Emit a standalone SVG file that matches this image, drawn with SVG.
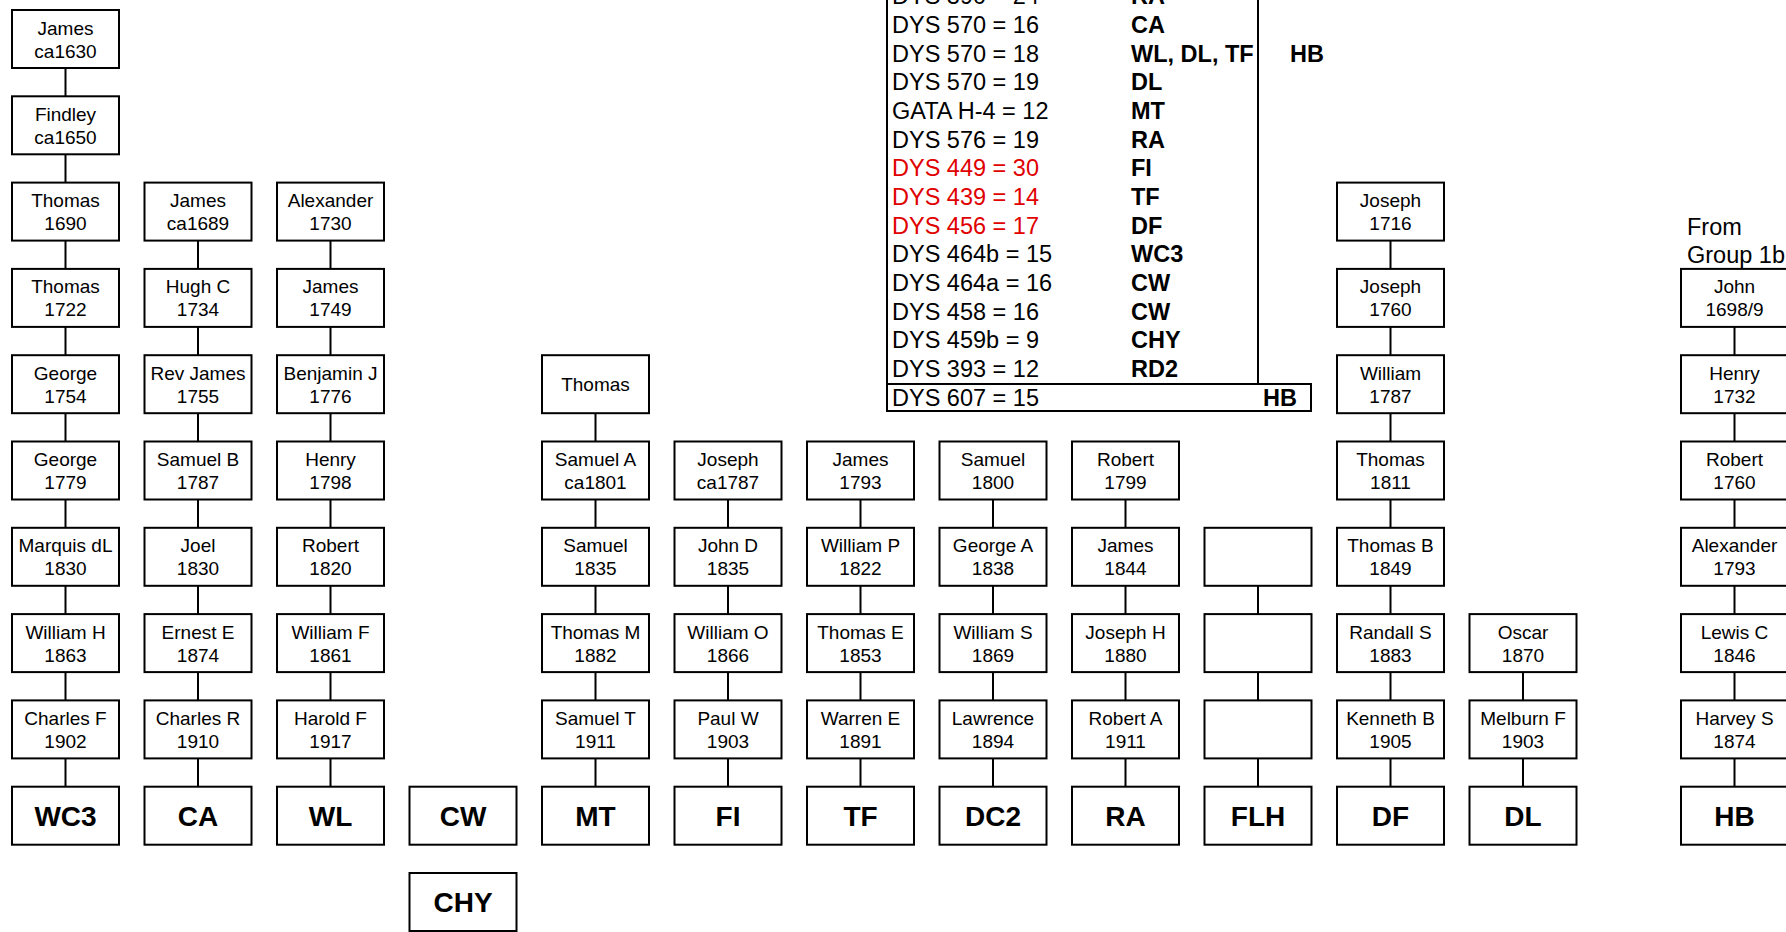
<svg xmlns="http://www.w3.org/2000/svg" width="1786" height="932" viewBox="0 0 1786 932">
<style>
.b{fill:#fff;stroke:#000;stroke-width:2}
.t{font-family:"Liberation Sans",Arial,sans-serif;font-size:19px;text-anchor:middle;fill:#000}
.k{font-family:"Liberation Sans",Arial,sans-serif;font-size:28px;font-weight:bold;text-anchor:middle;fill:#000}
.c{stroke:#000;stroke-width:2;fill:none}
.tb{font-family:"Liberation Sans",Arial,sans-serif;font-size:23.5px;fill:#000}
.tbb{font-family:"Liberation Sans",Arial,sans-serif;font-size:23.5px;font-weight:bold;fill:#000}
.red{fill:#e00000}
</style>
<rect width="1786" height="932" fill="#fff"/>
<g id="connectors" class="c">
<path d="M65.5 68V786.7"/>
<path d="M198 240.6V786.7"/>
<path d="M330.5 240.6V786.7"/>
<path d="M595.5 413.2V786.7"/>
<path d="M728 499.5V786.7"/>
<path d="M860.5 499.5V786.7"/>
<path d="M993 499.5V786.7"/>
<path d="M1125.5 499.5V786.7"/>
<path d="M1258 585.8V786.7"/>
<path d="M1390.5 240.6V786.7"/>
<path d="M1523 672.1V786.7"/>
<path d="M1734.5 326.9V786.7"/>
</g>
<g id="table">
<rect x="887" y="-10" width="371" height="394" fill="none" stroke="#000" stroke-width="2"/>
<rect x="887" y="384" width="424" height="27" fill="none" stroke="#000" stroke-width="2"/>
<text class="tb" x="892" y="4.3">DYS 390 = 24</text><text class="tbb" x="1131" y="4.3">RA</text>
<text class="tb" x="892" y="33">DYS 570 = 16</text><text class="tbb" x="1131" y="33">CA</text>
<text class="tb" x="892" y="61.7">DYS 570 = 18</text><text class="tbb" x="1131" y="61.7">WL, DL, TF</text><text class="tbb" x="1290" y="61.7">HB</text>
<text class="tb" x="892" y="90.3">DYS 570 = 19</text><text class="tbb" x="1131" y="90.3">DL</text>
<text class="tb" x="892" y="119">GATA H-4 = 12</text><text class="tbb" x="1131" y="119">MT</text>
<text class="tb" x="892" y="147.7">DYS 576 = 19</text><text class="tbb" x="1131" y="147.7">RA</text>
<text class="tb red" x="892" y="176.3">DYS 449 = 30</text><text class="tbb" x="1131" y="176.3">FI</text>
<text class="tb red" x="892" y="205">DYS 439 = 14</text><text class="tbb" x="1131" y="205">TF</text>
<text class="tb red" x="892" y="233.7">DYS 456 = 17</text><text class="tbb" x="1131" y="233.7">DF</text>
<text class="tb" x="892" y="262.3">DYS 464b = 15</text><text class="tbb" x="1131" y="262.3">WC3</text>
<text class="tb" x="892" y="291">DYS 464a = 16</text><text class="tbb" x="1131" y="291">CW</text>
<text class="tb" x="892" y="319.7">DYS 458 = 16</text><text class="tbb" x="1131" y="319.7">CW</text>
<text class="tb" x="892" y="348.3">DYS 459b = 9</text><text class="tbb" x="1131" y="348.3">CHY</text>
<text class="tb" x="892" y="377">DYS 393 = 12</text><text class="tbb" x="1131" y="377">RD2</text>
<text class="tb" x="892" y="406">DYS 607 = 15</text><text class="tbb" x="1297" y="406" text-anchor="end">HB</text>
</g>
<g id="from-label">
<text class="tb" x="1687" y="235">From</text>
<text class="tb" x="1687" y="263">Group 1b</text>
</g>
<!-- column 0 -->
<g id="n0-0" transform="translate(12,10)"><rect class="b" width="107" height="58"/><text class="t" x="53.5" y="24.5">James</text><text class="t" x="53.5" y="47.5">ca1630</text></g>
<g id="n0-1" transform="translate(12,96.3)"><rect class="b" width="107" height="58"/><text class="t" x="53.5" y="24.5">Findley</text><text class="t" x="53.5" y="47.5">ca1650</text></g>
<g id="n0-2" transform="translate(12,182.6)"><rect class="b" width="107" height="58"/><text class="t" x="53.5" y="24.5">Thomas</text><text class="t" x="53.5" y="47.5">1690</text></g>
<g id="n0-3" transform="translate(12,268.9)"><rect class="b" width="107" height="58"/><text class="t" x="53.5" y="24.5">Thomas</text><text class="t" x="53.5" y="47.5">1722</text></g>
<g id="n0-4" transform="translate(12,355.2)"><rect class="b" width="107" height="58"/><text class="t" x="53.5" y="24.5">George</text><text class="t" x="53.5" y="47.5">1754</text></g>
<g id="n0-5" transform="translate(12,441.5)"><rect class="b" width="107" height="58"/><text class="t" x="53.5" y="24.5">George</text><text class="t" x="53.5" y="47.5">1779</text></g>
<g id="n0-6" transform="translate(12,527.8)"><rect class="b" width="107" height="58"/><text class="t" x="53.5" y="24.5">Marquis dL</text><text class="t" x="53.5" y="47.5">1830</text></g>
<g id="n0-7" transform="translate(12,614.1)"><rect class="b" width="107" height="58"/><text class="t" x="53.5" y="24.5">William H</text><text class="t" x="53.5" y="47.5">1863</text></g>
<g id="n0-8" transform="translate(12,700.4)"><rect class="b" width="107" height="58"/><text class="t" x="53.5" y="24.5">Charles F</text><text class="t" x="53.5" y="47.5">1902</text></g>
<g id="WC3" transform="translate(12,786.7)"><rect class="b" width="107" height="58"/><text class="k" x="53.5" y="39">WC3</text></g>
<!-- column 1 -->
<g id="n1-2" transform="translate(144.5,182.6)"><rect class="b" width="107" height="58"/><text class="t" x="53.5" y="24.5">James</text><text class="t" x="53.5" y="47.5">ca1689</text></g>
<g id="n1-3" transform="translate(144.5,268.9)"><rect class="b" width="107" height="58"/><text class="t" x="53.5" y="24.5">Hugh C</text><text class="t" x="53.5" y="47.5">1734</text></g>
<g id="n1-4" transform="translate(144.5,355.2)"><rect class="b" width="107" height="58"/><text class="t" x="53.5" y="24.5">Rev James</text><text class="t" x="53.5" y="47.5">1755</text></g>
<g id="n1-5" transform="translate(144.5,441.5)"><rect class="b" width="107" height="58"/><text class="t" x="53.5" y="24.5">Samuel B</text><text class="t" x="53.5" y="47.5">1787</text></g>
<g id="n1-6" transform="translate(144.5,527.8)"><rect class="b" width="107" height="58"/><text class="t" x="53.5" y="24.5">Joel</text><text class="t" x="53.5" y="47.5">1830</text></g>
<g id="n1-7" transform="translate(144.5,614.1)"><rect class="b" width="107" height="58"/><text class="t" x="53.5" y="24.5">Ernest E</text><text class="t" x="53.5" y="47.5">1874</text></g>
<g id="n1-8" transform="translate(144.5,700.4)"><rect class="b" width="107" height="58"/><text class="t" x="53.5" y="24.5">Charles R</text><text class="t" x="53.5" y="47.5">1910</text></g>
<g id="CA" transform="translate(144.5,786.7)"><rect class="b" width="107" height="58"/><text class="k" x="53.5" y="39">CA</text></g>
<!-- column 2 -->
<g id="n2-2" transform="translate(277,182.6)"><rect class="b" width="107" height="58"/><text class="t" x="53.5" y="24.5">Alexander</text><text class="t" x="53.5" y="47.5">1730</text></g>
<g id="n2-3" transform="translate(277,268.9)"><rect class="b" width="107" height="58"/><text class="t" x="53.5" y="24.5">James</text><text class="t" x="53.5" y="47.5">1749</text></g>
<g id="n2-4" transform="translate(277,355.2)"><rect class="b" width="107" height="58"/><text class="t" x="53.5" y="24.5">Benjamin J</text><text class="t" x="53.5" y="47.5">1776</text></g>
<g id="n2-5" transform="translate(277,441.5)"><rect class="b" width="107" height="58"/><text class="t" x="53.5" y="24.5">Henry</text><text class="t" x="53.5" y="47.5">1798</text></g>
<g id="n2-6" transform="translate(277,527.8)"><rect class="b" width="107" height="58"/><text class="t" x="53.5" y="24.5">Robert</text><text class="t" x="53.5" y="47.5">1820</text></g>
<g id="n2-7" transform="translate(277,614.1)"><rect class="b" width="107" height="58"/><text class="t" x="53.5" y="24.5">William F</text><text class="t" x="53.5" y="47.5">1861</text></g>
<g id="n2-8" transform="translate(277,700.4)"><rect class="b" width="107" height="58"/><text class="t" x="53.5" y="24.5">Harold F</text><text class="t" x="53.5" y="47.5">1917</text></g>
<g id="WL" transform="translate(277,786.7)"><rect class="b" width="107" height="58"/><text class="k" x="53.5" y="39">WL</text></g>
<!-- column 3 -->
<g id="CW" transform="translate(409.5,786.7)"><rect class="b" width="107" height="58"/><text class="k" x="53.5" y="39">CW</text></g>
<g id="CHY" transform="translate(409.5,873)"><rect class="b" width="107" height="58"/><text class="k" x="53.5" y="39">CHY</text></g>
<!-- column 4 -->
<g id="n4-4" transform="translate(542,355.2)"><rect class="b" width="107" height="58"/><text class="t" x="53.5" y="36">Thomas</text></g>
<g id="n4-5" transform="translate(542,441.5)"><rect class="b" width="107" height="58"/><text class="t" x="53.5" y="24.5">Samuel A</text><text class="t" x="53.5" y="47.5">ca1801</text></g>
<g id="n4-6" transform="translate(542,527.8)"><rect class="b" width="107" height="58"/><text class="t" x="53.5" y="24.5">Samuel</text><text class="t" x="53.5" y="47.5">1835</text></g>
<g id="n4-7" transform="translate(542,614.1)"><rect class="b" width="107" height="58"/><text class="t" x="53.5" y="24.5">Thomas M</text><text class="t" x="53.5" y="47.5">1882</text></g>
<g id="n4-8" transform="translate(542,700.4)"><rect class="b" width="107" height="58"/><text class="t" x="53.5" y="24.5">Samuel T</text><text class="t" x="53.5" y="47.5">1911</text></g>
<g id="MT" transform="translate(542,786.7)"><rect class="b" width="107" height="58"/><text class="k" x="53.5" y="39">MT</text></g>
<!-- column 5 -->
<g id="n5-5" transform="translate(674.5,441.5)"><rect class="b" width="107" height="58"/><text class="t" x="53.5" y="24.5">Joseph</text><text class="t" x="53.5" y="47.5">ca1787</text></g>
<g id="n5-6" transform="translate(674.5,527.8)"><rect class="b" width="107" height="58"/><text class="t" x="53.5" y="24.5">John D</text><text class="t" x="53.5" y="47.5">1835</text></g>
<g id="n5-7" transform="translate(674.5,614.1)"><rect class="b" width="107" height="58"/><text class="t" x="53.5" y="24.5">William O</text><text class="t" x="53.5" y="47.5">1866</text></g>
<g id="n5-8" transform="translate(674.5,700.4)"><rect class="b" width="107" height="58"/><text class="t" x="53.5" y="24.5">Paul W</text><text class="t" x="53.5" y="47.5">1903</text></g>
<g id="FI" transform="translate(674.5,786.7)"><rect class="b" width="107" height="58"/><text class="k" x="53.5" y="39">FI</text></g>
<!-- column 6 -->
<g id="n6-5" transform="translate(807,441.5)"><rect class="b" width="107" height="58"/><text class="t" x="53.5" y="24.5">James</text><text class="t" x="53.5" y="47.5">1793</text></g>
<g id="n6-6" transform="translate(807,527.8)"><rect class="b" width="107" height="58"/><text class="t" x="53.5" y="24.5">William P</text><text class="t" x="53.5" y="47.5">1822</text></g>
<g id="n6-7" transform="translate(807,614.1)"><rect class="b" width="107" height="58"/><text class="t" x="53.5" y="24.5">Thomas E</text><text class="t" x="53.5" y="47.5">1853</text></g>
<g id="n6-8" transform="translate(807,700.4)"><rect class="b" width="107" height="58"/><text class="t" x="53.5" y="24.5">Warren E</text><text class="t" x="53.5" y="47.5">1891</text></g>
<g id="TF" transform="translate(807,786.7)"><rect class="b" width="107" height="58"/><text class="k" x="53.5" y="39">TF</text></g>
<!-- column 7 -->
<g id="n7-5" transform="translate(939.5,441.5)"><rect class="b" width="107" height="58"/><text class="t" x="53.5" y="24.5">Samuel</text><text class="t" x="53.5" y="47.5">1800</text></g>
<g id="n7-6" transform="translate(939.5,527.8)"><rect class="b" width="107" height="58"/><text class="t" x="53.5" y="24.5">George A</text><text class="t" x="53.5" y="47.5">1838</text></g>
<g id="n7-7" transform="translate(939.5,614.1)"><rect class="b" width="107" height="58"/><text class="t" x="53.5" y="24.5">William S</text><text class="t" x="53.5" y="47.5">1869</text></g>
<g id="n7-8" transform="translate(939.5,700.4)"><rect class="b" width="107" height="58"/><text class="t" x="53.5" y="24.5">Lawrence</text><text class="t" x="53.5" y="47.5">1894</text></g>
<g id="DC2" transform="translate(939.5,786.7)"><rect class="b" width="107" height="58"/><text class="k" x="53.5" y="39">DC2</text></g>
<!-- column 8 -->
<g id="n8-5" transform="translate(1072,441.5)"><rect class="b" width="107" height="58"/><text class="t" x="53.5" y="24.5">Robert</text><text class="t" x="53.5" y="47.5">1799</text></g>
<g id="n8-6" transform="translate(1072,527.8)"><rect class="b" width="107" height="58"/><text class="t" x="53.5" y="24.5">James</text><text class="t" x="53.5" y="47.5">1844</text></g>
<g id="n8-7" transform="translate(1072,614.1)"><rect class="b" width="107" height="58"/><text class="t" x="53.5" y="24.5">Joseph H</text><text class="t" x="53.5" y="47.5">1880</text></g>
<g id="n8-8" transform="translate(1072,700.4)"><rect class="b" width="107" height="58"/><text class="t" x="53.5" y="24.5">Robert A</text><text class="t" x="53.5" y="47.5">1911</text></g>
<g id="RA" transform="translate(1072,786.7)"><rect class="b" width="107" height="58"/><text class="k" x="53.5" y="39">RA</text></g>
<!-- column 9 -->
<g id="n9-6" transform="translate(1204.5,527.8)"><rect class="b" width="107" height="58"/></g>
<g id="n9-7" transform="translate(1204.5,614.1)"><rect class="b" width="107" height="58"/></g>
<g id="n9-8" transform="translate(1204.5,700.4)"><rect class="b" width="107" height="58"/></g>
<g id="FLH" transform="translate(1204.5,786.7)"><rect class="b" width="107" height="58"/><text class="k" x="53.5" y="39">FLH</text></g>
<!-- column 10 -->
<g id="n10-2" transform="translate(1337,182.6)"><rect class="b" width="107" height="58"/><text class="t" x="53.5" y="24.5">Joseph</text><text class="t" x="53.5" y="47.5">1716</text></g>
<g id="n10-3" transform="translate(1337,268.9)"><rect class="b" width="107" height="58"/><text class="t" x="53.5" y="24.5">Joseph</text><text class="t" x="53.5" y="47.5">1760</text></g>
<g id="n10-4" transform="translate(1337,355.2)"><rect class="b" width="107" height="58"/><text class="t" x="53.5" y="24.5">William</text><text class="t" x="53.5" y="47.5">1787</text></g>
<g id="n10-5" transform="translate(1337,441.5)"><rect class="b" width="107" height="58"/><text class="t" x="53.5" y="24.5">Thomas</text><text class="t" x="53.5" y="47.5">1811</text></g>
<g id="n10-6" transform="translate(1337,527.8)"><rect class="b" width="107" height="58"/><text class="t" x="53.5" y="24.5">Thomas B</text><text class="t" x="53.5" y="47.5">1849</text></g>
<g id="n10-7" transform="translate(1337,614.1)"><rect class="b" width="107" height="58"/><text class="t" x="53.5" y="24.5">Randall S</text><text class="t" x="53.5" y="47.5">1883</text></g>
<g id="n10-8" transform="translate(1337,700.4)"><rect class="b" width="107" height="58"/><text class="t" x="53.5" y="24.5">Kenneth B</text><text class="t" x="53.5" y="47.5">1905</text></g>
<g id="DF" transform="translate(1337,786.7)"><rect class="b" width="107" height="58"/><text class="k" x="53.5" y="39">DF</text></g>
<!-- column 11 -->
<g id="n11-7" transform="translate(1469.5,614.1)"><rect class="b" width="107" height="58"/><text class="t" x="53.5" y="24.5">Oscar</text><text class="t" x="53.5" y="47.5">1870</text></g>
<g id="n11-8" transform="translate(1469.5,700.4)"><rect class="b" width="107" height="58"/><text class="t" x="53.5" y="24.5">Melburn F</text><text class="t" x="53.5" y="47.5">1903</text></g>
<g id="DL" transform="translate(1469.5,786.7)"><rect class="b" width="107" height="58"/><text class="k" x="53.5" y="39">DL</text></g>
<!-- HB column -->
<g id="nh-3" transform="translate(1681,268.9)"><rect class="b" width="107" height="58"/><text class="t" x="53.5" y="24.5">John</text><text class="t" x="53.5" y="47.5">1698/9</text></g>
<g id="nh-4" transform="translate(1681,355.2)"><rect class="b" width="107" height="58"/><text class="t" x="53.5" y="24.5">Henry</text><text class="t" x="53.5" y="47.5">1732</text></g>
<g id="nh-5" transform="translate(1681,441.5)"><rect class="b" width="107" height="58"/><text class="t" x="53.5" y="24.5">Robert</text><text class="t" x="53.5" y="47.5">1760</text></g>
<g id="nh-6" transform="translate(1681,527.8)"><rect class="b" width="107" height="58"/><text class="t" x="53.5" y="24.5">Alexander</text><text class="t" x="53.5" y="47.5">1793</text></g>
<g id="nh-7" transform="translate(1681,614.1)"><rect class="b" width="107" height="58"/><text class="t" x="53.5" y="24.5">Lewis C</text><text class="t" x="53.5" y="47.5">1846</text></g>
<g id="nh-8" transform="translate(1681,700.4)"><rect class="b" width="107" height="58"/><text class="t" x="53.5" y="24.5">Harvey S</text><text class="t" x="53.5" y="47.5">1874</text></g>
<g id="HB" transform="translate(1681,786.7)"><rect class="b" width="107" height="58"/><text class="k" x="53.5" y="39">HB</text></g>
</svg>
